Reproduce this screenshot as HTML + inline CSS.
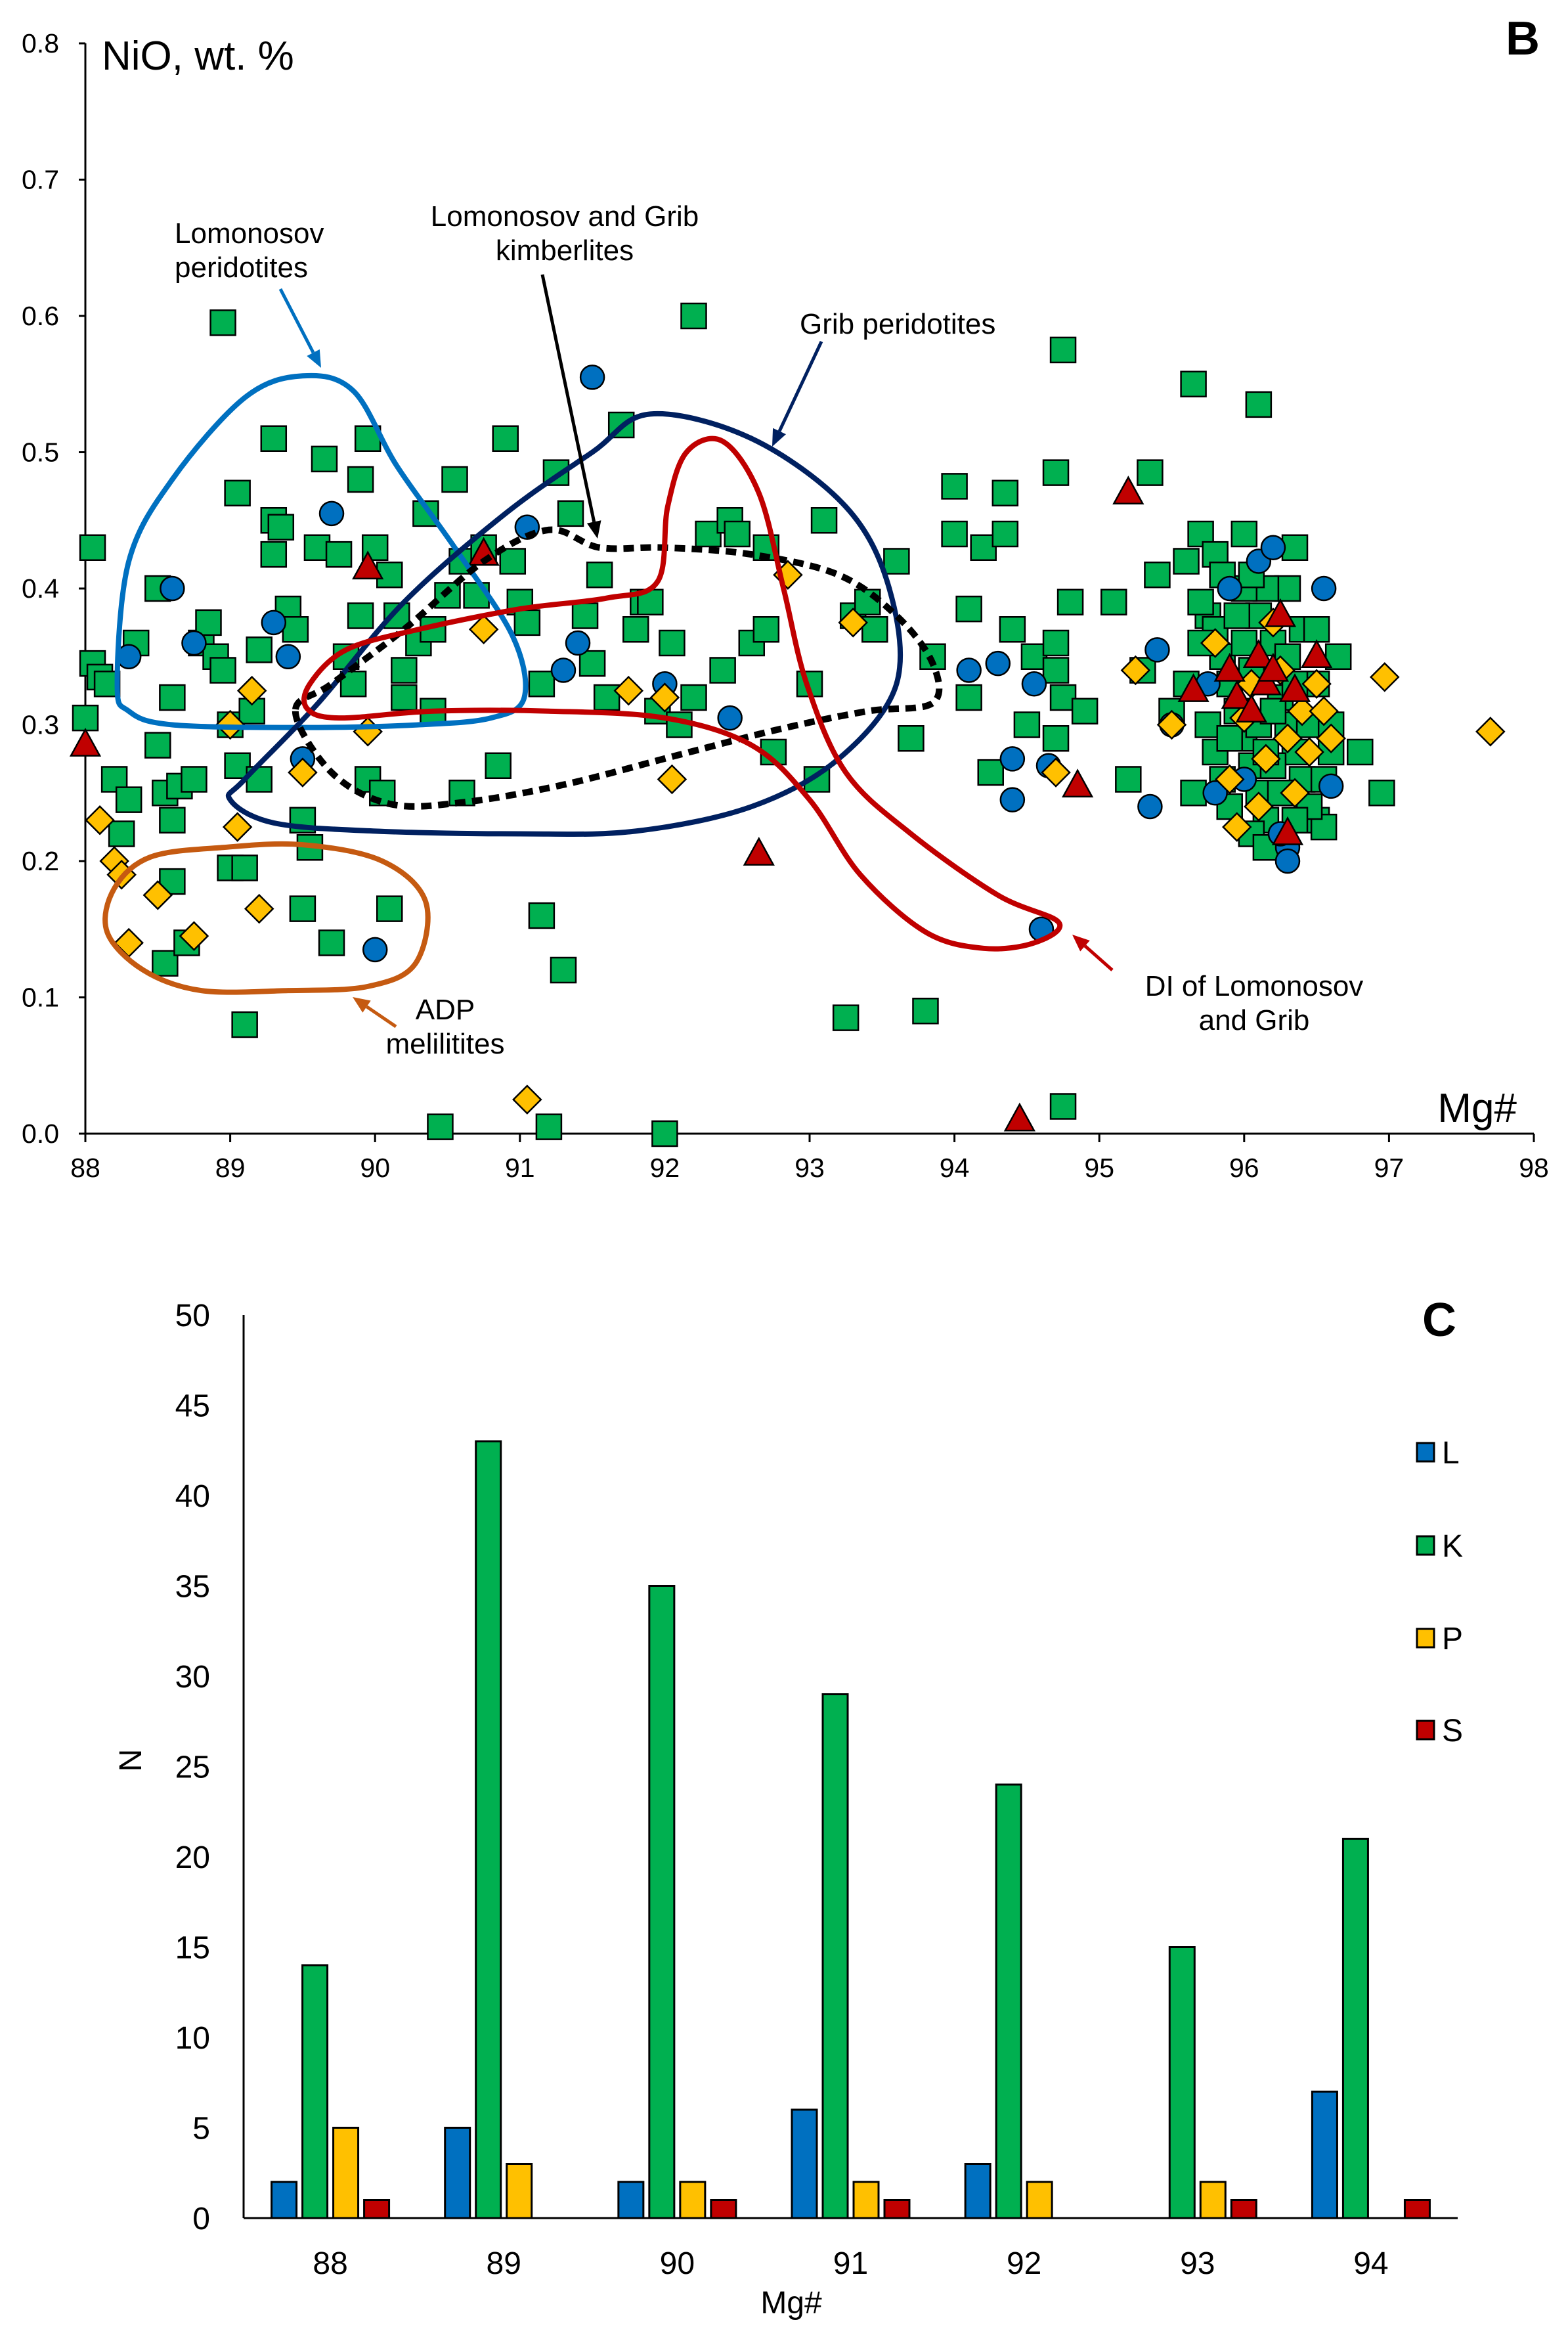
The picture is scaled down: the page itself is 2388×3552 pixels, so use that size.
<!DOCTYPE html>
<html><head><meta charset="utf-8"><style>
html,body{margin:0;padding:0;background:#fff}
svg{display:block}
text{font-family:"Liberation Sans",Arial,sans-serif;fill:#000}
</style></head><body>
<svg id="fig" width="2388" height="3552" viewBox="0 0 2388 3552" xmlns="http://www.w3.org/2000/svg">
<g id="chartB"></g>
<g id="chartC"></g>
</svg>
<script>
// ---- Scatter B data ----
const xTicksB = [88,89,90,91,92,93,94,95,96,97,98];
const yTicksB = [0.0,0.1,0.2,0.3,0.4,0.5,0.6,0.7,0.8];
const kMg = [88.05,88,88.05,88.1,88.15,88.2,88.25,88.3,88.35,88.5,88.5,88.55,88.6,88.6,88.55,88.6,88.65,88.7,88.75,88.8,88.85,88.9,88.95,89,89.05,88.95,89.05,89,89.1,89.1,89.15,89.2,89.2,89.3,89.3,89.3,89.35,89.4,89.45,89.5,89.5,89.55,89.6,89.65,89.7,89.75,89.8,89.85,89.9,89.95,89.9,89.95,90,90.05,90.1,90.1,90.15,90.2,90.2,90.3,90.35,90.4,90.4,90.45,90.5,90.55,90.6,90.6,90.7,90.75,90.85,90.9,90.95,91,91.05,91.15,91.15,91.2,91.25,91.3,91.35,91.45,91.5,91.55,91.6,91.7,91.8,91.85,91.9,91.95,92,92.05,92.1,92.2,92.2,92.3,92.4,92.45,92.5,92.6,92.7,92.75,92.7,93,93.05,93.1,93.25,93.3,93.4,93.45,93.6,93.7,93.8,93.85,94,94,94.1,94.1,94.2,94.25,94.35,94.35,94.4,94.5,94.55,94.7,94.75,94.7,94.75,94.8,94.7,94.7,94.75,94.9,95.1,95.2,95.3,95.35,95.4,95.5,95.6,95.65,95.7,95.75,95.8,96,96.1,96.35,96.6,96.65,96.8,96.95,96.5,96.55,96.3,95.7,95.8,95.85,95.9,95.95,96,96.05,96.1,96.15,95.75,95.8,95.85,95.9,96,96.1,96.15,96.2,96.25,96.3,96.35,96.4,96.45,96.2,96.25,96.3,96.4,96.5,96.5,96.45,96.05,95.95,96,96.05,95.9,96.35,96.1,96.2,96.15,95.65,95.6,95.7,96.55,96.6,95.85,96.05,96.15,96.35];
const kNiO = [0.43,0.305,0.345,0.335,0.33,0.26,0.22,0.245,0.36,0.4,0.285,0.25,0.23,0.185,0.125,0.32,0.255,0.14,0.26,0.36,0.375,0.35,0.34,0.3,0.27,0.595,0.47,0.195,0.195,0.08,0.31,0.26,0.355,0.51,0.45,0.425,0.445,0.385,0.37,0.23,0.165,0.21,0.43,0.495,0.14,0.425,0.35,0.33,0.48,0.51,0.38,0.26,0.43,0.25,0.165,0.41,0.38,0.32,0.34,0.36,0.455,0.37,0.31,0.005,0.395,0.48,0.42,0.25,0.395,0.43,0.27,0.51,0.42,0.39,0.375,0.33,0.16,0.005,0.485,0.12,0.455,0.38,0.345,0.41,0.32,0.52,0.37,0.39,0.39,0.31,0.0,0.36,0.3,0.6,0.32,0.44,0.34,0.45,0.44,0.36,0.43,0.28,0.37,0.33,0.26,0.45,0.085,0.38,0.39,0.37,0.42,0.29,0.09,0.35,0.475,0.44,0.32,0.385,0.43,0.265,0.47,0.44,0.37,0.3,0.35,0.485,0.575,0.29,0.32,0.39,0.36,0.34,0.02,0.31,0.39,0.26,0.34,0.485,0.41,0.31,0.42,0.55,0.44,0.38,0.425,0.44,0.535,0.43,0.28,0.35,0.28,0.25,0.23,0.225,0.4,0.39,0.37,0.35,0.33,0.31,0.29,0.27,0.25,0.23,0.3,0.28,0.26,0.24,0.36,0.38,0.4,0.36,0.32,0.3,0.28,0.26,0.24,0.27,0.25,0.35,0.37,0.37,0.33,0.3,0.34,0.38,0.4,0.22,0.29,0.33,0.3,0.31,0.28,0.25,0.33,0.36,0.26,0.3,0.41,0.41,0.21,0.23];
const lMg = [88.3,88.6,88.75,89.3,89.4,89.5,89.7,90,91.05,91.5,91.3,91.4,92,92.45,94.1,94.3,94.4,94.4,94.55,94.6,94.65,95.4,95.35,95.5,95.8,96.1,96.2,96.3,96.3,96.6,96.55,95.9,95.75,96.25,96];
const lNiO = [0.35,0.4,0.36,0.375,0.35,0.275,0.455,0.135,0.445,0.555,0.34,0.36,0.33,0.305,0.34,0.345,0.275,0.245,0.33,0.15,0.27,0.355,0.24,0.3,0.25,0.42,0.43,0.21,0.2,0.255,0.4,0.4,0.33,0.22,0.26];
const pMg = [88.1,88.2,88.25,88.3,88.5,88.75,89.2,89.05,89.15,89,89.5,89.95,90.75,91.05,91.75,92,92.05,92.85,93.3,94.7,95.25,95.5,95.8,95.9,95.95,96,96.05,96.1,96.15,96.2,96.3,96.35,96.4,96.45,96.5,96.55,96.6,96.97,97.7,96.25];
const pNiO = [0.23,0.2,0.19,0.14,0.175,0.145,0.165,0.225,0.325,0.3,0.265,0.295,0.37,0.025,0.325,0.32,0.26,0.41,0.375,0.265,0.34,0.3,0.36,0.26,0.225,0.305,0.33,0.24,0.275,0.375,0.29,0.25,0.31,0.28,0.33,0.31,0.29,0.335,0.295,0.34];
const sMg = [88,89.95,90.75,92.65,94.45,94.85,95.2,95.65,95.9,95.95,96.05,96.1,96.15,96.25,96.35,96.5,96.3,96.2];
const sNiO = [0.285,0.415,0.425,0.205,0.01,0.255,0.47,0.325,0.34,0.32,0.31,0.35,0.33,0.38,0.325,0.35,0.22,0.34];

// ---- Bar C data ----
const categoriesC = ['88','89','90','91','92','93','94'];
const seriesL = [2,5,2,6,3,0,7];
const seriesK = [14,43,35,29,24,15,21];
const seriesP = [5,3,2,2,2,2,0];
const seriesS = [1,0,1,1,0,1,1];
const yTicksC = [0,5,10,15,20,25,30,35,40,45,50];
const seriesNames = ['L','K','P','S'];

const NS='http://www.w3.org/2000/svg';
function mk(tag,attrs,parent){const e=document.createElementNS(NS,tag);for(const k in attrs)e.setAttribute(k,attrs[k]);parent.appendChild(e);return e;}

// ===== Chart B =====
const gB=document.getElementById('chartB');
const bx0=130,bx1=2336,by0=1726,by1=66;
const xB=v=>bx0+(v-88)/10*(bx1-bx0);
const yB=v=>by0-(v/0.8)*(by0-by1);

let ax=mk('line',{x1:bx0,y1:by1,x2:bx0,y2:by0+1,stroke:'#000','stroke-width':3},gB);


ax=mk('line',{x1:bx0-10,y1:by0,x2:bx1,y2:by0,stroke:'#000','stroke-width':3},gB);


xTicksB.forEach(t=>{
  const tk=mk('line',{x1:xB(t),y1:by0,x2:xB(t),y2:by0+13,stroke:'#000','stroke-width':3},gB);
  
  
  const tl=mk('text',{x:xB(t),y:by0+66,'font-size':41,'text-anchor':'middle'},gB);
  tl.textContent=String(t);
  
  
});
yTicksB.forEach(t=>{
  const tk=mk('line',{x1:bx0-10,y1:yB(t),x2:bx0,y2:yB(t),stroke:'#000','stroke-width':3},gB);
  
  
  const tl=mk('text',{x:90,y:yB(t)+14,'font-size':41,'text-anchor':'end'},gB);
  tl.textContent=t.toFixed(1);
  
  
});

function smooth(pts,closed){
  const P=pts.map(p=>[xB(p[0]),yB(p[1])]);const n=P.length;let d='M'+P[0][0]+','+P[0][1];
  const last=closed?n:n-1;
  for(let i=0;i<last;i++){
    const p0=P[(i-1+n)%n],p1=P[i],p2=P[(i+1)%n],p3=P[(i+2)%n];
    const c1=[p1[0]+(p2[0]-p0[0])/6,p1[1]+(p2[1]-p0[1])/6];
    const c2=[p2[0]-(p3[0]-p1[0])/6,p2[1]-(p3[1]-p1[1])/6];
    d+=' C'+c1[0]+','+c1[1]+' '+c2[0]+','+c2[1]+' '+p2[0]+','+p2[1];
  }
  return d+(closed?'Z':'');
}

const mG=mk('g',{},gB);
kMg.forEach((m,i)=>{const s=38;const r=mk('rect',{x:xB(m)-s/2,y:yB(kNiO[i])-s/2,width:s,height:s,fill:'#00B050',stroke:'#000','stroke-width':2.5},mG);
  
  });
lMg.forEach((m,i)=>{const c=mk('circle',{cx:xB(m),cy:yB(lNiO[i]),r:18,fill:'#0070C0',stroke:'#000','stroke-width':2.5},mG);
  
  });
pMg.forEach((m,i)=>{const cx=xB(m),cy=yB(pNiO[i]),h=21;const p=mk('polygon',{points:`${cx},${cy-h} ${cx+h},${cy} ${cx},${cy+h} ${cx-h},${cy}`,fill:'#FFC000',stroke:'#000','stroke-width':2.5},mG);
  
  });
sMg.forEach((m,i)=>{const cx=xB(m),cy=yB(sNiO[i]);const p=mk('polygon',{points:`${cx},${cy-24} ${cx+22},${cy+16} ${cx-22},${cy+16}`,fill:'#C00000',stroke:'#000','stroke-width':2.5},mG);
  
  });

const outlines=[
 ['lomonosov-peridotites-outline','#0070C0',null,[[88.22,0.33],[88.3,0.42],[88.6,0.48],[89.1,0.54],[89.5,0.556],[89.85,0.545],[90.15,0.49],[90.55,0.43],[90.95,0.365],[91.03,0.32],[90.8,0.305],[90.3,0.3],[89.5,0.298],[88.6,0.3],[88.3,0.31]]],
 ['grib-peridotites-outline','#002060',null,[[89.0,0.245],[89.3,0.228],[90.0,0.222],[91.0,0.22],[91.8,0.222],[92.6,0.24],[93.2,0.275],[93.6,0.33],[93.55,0.4],[93.25,0.46],[92.6,0.51],[91.9,0.528],[91.5,0.5],[90.9,0.455],[90.2,0.39],[89.6,0.315],[89.1,0.26]]],
 ['kimberlites-outline','#000','16 10',[[89.45,0.31],[89.7,0.265],[90.1,0.242],[90.6,0.243],[91.3,0.256],[92.1,0.278],[92.8,0.297],[93.4,0.31],[93.85,0.316],[93.85,0.345],[93.6,0.38],[93.2,0.41],[92.6,0.425],[92.0,0.43],[91.55,0.43],[91.2,0.443],[90.75,0.42],[90.2,0.37],[89.7,0.33]]],
 ['di-outline','#C00000',null,[[89.55,0.33],[89.8,0.355],[90.3,0.37],[91.0,0.385],[91.6,0.393],[91.95,0.405],[92.02,0.46],[92.15,0.5],[92.4,0.508],[92.65,0.47],[92.82,0.4],[92.98,0.33],[93.25,0.265],[93.7,0.22],[94.3,0.175],[94.72,0.155],[94.55,0.14],[94.2,0.136],[93.8,0.148],[93.35,0.19],[93.0,0.245],[92.6,0.285],[92.0,0.305],[91.2,0.31],[90.4,0.31],[89.75,0.305],[89.53,0.312]]],
 ['adp-melilitites-outline','#C55A11',null,[[88.2,0.18],[88.45,0.203],[88.95,0.21],[89.5,0.212],[90.05,0.2],[90.35,0.17],[90.28,0.125],[89.95,0.108],[89.4,0.105],[88.8,0.105],[88.4,0.12],[88.15,0.148]]]
];
outlines.forEach(o=>{const p=mk('path',{d:smooth(o[3],true),fill:'none',stroke:o[1],'stroke-width':o[2]?10:8,'stroke-dasharray':o[2]||'none'},gB);
  
  });

function arrow(name,x1,y1,x2,y2,col){
  const g=mk('g',{},gB);
  
  
  const a=Math.atan2(y2-y1,x2-x1),L=26,W=11;
  const bx=x2-L*Math.cos(a),by=y2-L*Math.sin(a);
  mk('line',{x1:x1,y1:y1,x2:bx,y2:by,stroke:col,'stroke-width':5},g);
  mk('polygon',{points:`${x2},${y2} ${bx-W*Math.sin(a)},${by+W*Math.cos(a)} ${bx+W*Math.sin(a)},${by-W*Math.cos(a)}`,fill:col},g);
}
arrow('lomonosov-arrow',427,440,489,560,'#0070C0');
arrow('kimberlites-arrow',826,418,910,820,'#000');
arrow('grib-arrow',1251,520,1176,680,'#002060');
arrow('di-arrow',1694,1477,1633,1423,'#C00000');
arrow('adp-arrow',603,1563,537,1518,'#C55A11');

function txt(name,x,y,s,anchor,str,extra){const t=mk('text',Object.assign({x:x,y:y,'font-size':s,'text-anchor':anchor},extra||{}),gB);t.textContent=str;
  
  return t;}
txt('label-lomonosov-1',266,370,44,'start','Lomonosov');
txt('label-lomonosov-2',266,422,44,'start','peridotites');
txt('label-kimberlites-1',860,344,44,'middle','Lomonosov and Grib');
txt('label-kimberlites-2',860,396,44,'middle','kimberlites');
txt('label-grib',1218,508,44,'start','Grib peridotites');
txt('label-di-1',1910,1516,44,'middle','DI of Lomonosov');
txt('label-di-2',1910,1568,44,'middle','and Grib');
txt('label-adp-1',678,1552,44,'middle','ADP');
txt('label-adp-2',678,1604,44,'middle','melilitites');
txt('y-axis-title-b',155,106,62,'start','NiO, wt. %');
txt('x-axis-title-b',2310,1708,62,'end','Mg#');
txt('panel-label-b',2345,83,72,'end','B',{'font-weight':'bold'});

// ===== Chart C =====
const gC=document.getElementById('chartC');
const cx0=371,cx1=2220,cy0=3377,cy1=2002;
const band=(cx1-cx0)/categoriesC.length;
const yC=v=>cy0-v/50*(cy0-cy1);
const colors=['#0070C0','#00B050','#FFC000','#C00000'];
const allSeries=[seriesL,seriesK,seriesP,seriesS];
const bw=38,step=47;
allSeries.forEach((ser,si)=>{
  ser.forEach((v,i)=>{
    const c=cx0+(i+0.5)*band+(si-1.5)*step;
    if(v<=0)return;
    const r=mk('rect',{x:c-bw/2,y:yC(v),width:bw,height:yC(0)-yC(v),fill:colors[si],stroke:'#000','stroke-width':3},gC);
    
    
  });
});
ax=mk('line',{x1:cx0,y1:cy1,x2:cx0,y2:cy0,stroke:'#000','stroke-width':3},gC);


ax=mk('line',{x1:cx0,y1:cy0,x2:cx1,y2:cy0,stroke:'#000','stroke-width':3},gC);


yTicksC.forEach(t=>{
  const tl=mk('text',{x:320,y:yC(t)+17,'font-size':48,'text-anchor':'end'},gC);
  tl.textContent=String(t);
  
  
});
categoriesC.forEach((c,i)=>{
  const tl=mk('text',{x:cx0+(i+0.5)*band,y:3462,'font-size':48,'text-anchor':'middle'},gC);
  tl.textContent=c;
  
  
});
let t=mk('text',{x:1205,y:3522,'font-size':48,'text-anchor':'middle'},gC);t.textContent='Mg#';


t=mk('text',{x:0,y:0,'font-size':48,'text-anchor':'middle',transform:'translate(215,2680) rotate(-90)'},gC);t.textContent='N';


t=mk('text',{x:2192,y:2034,'font-size':72,'text-anchor':'middle','font-weight':'bold'},gC);t.textContent='C';


const legY=[2211,2353,2494,2634];
seriesNames.forEach((n,i)=>{
  const g=mk('g',{},gC);
  
  
  mk('rect',{x:2158,y:legY[i]-14,width:26,height:28,fill:colors[i],stroke:'#000','stroke-width':3},g);
  const tt=mk('text',{x:2196,y:legY[i]+17,'font-size':48},g);tt.textContent=n;
});
</script>
</body></html>
